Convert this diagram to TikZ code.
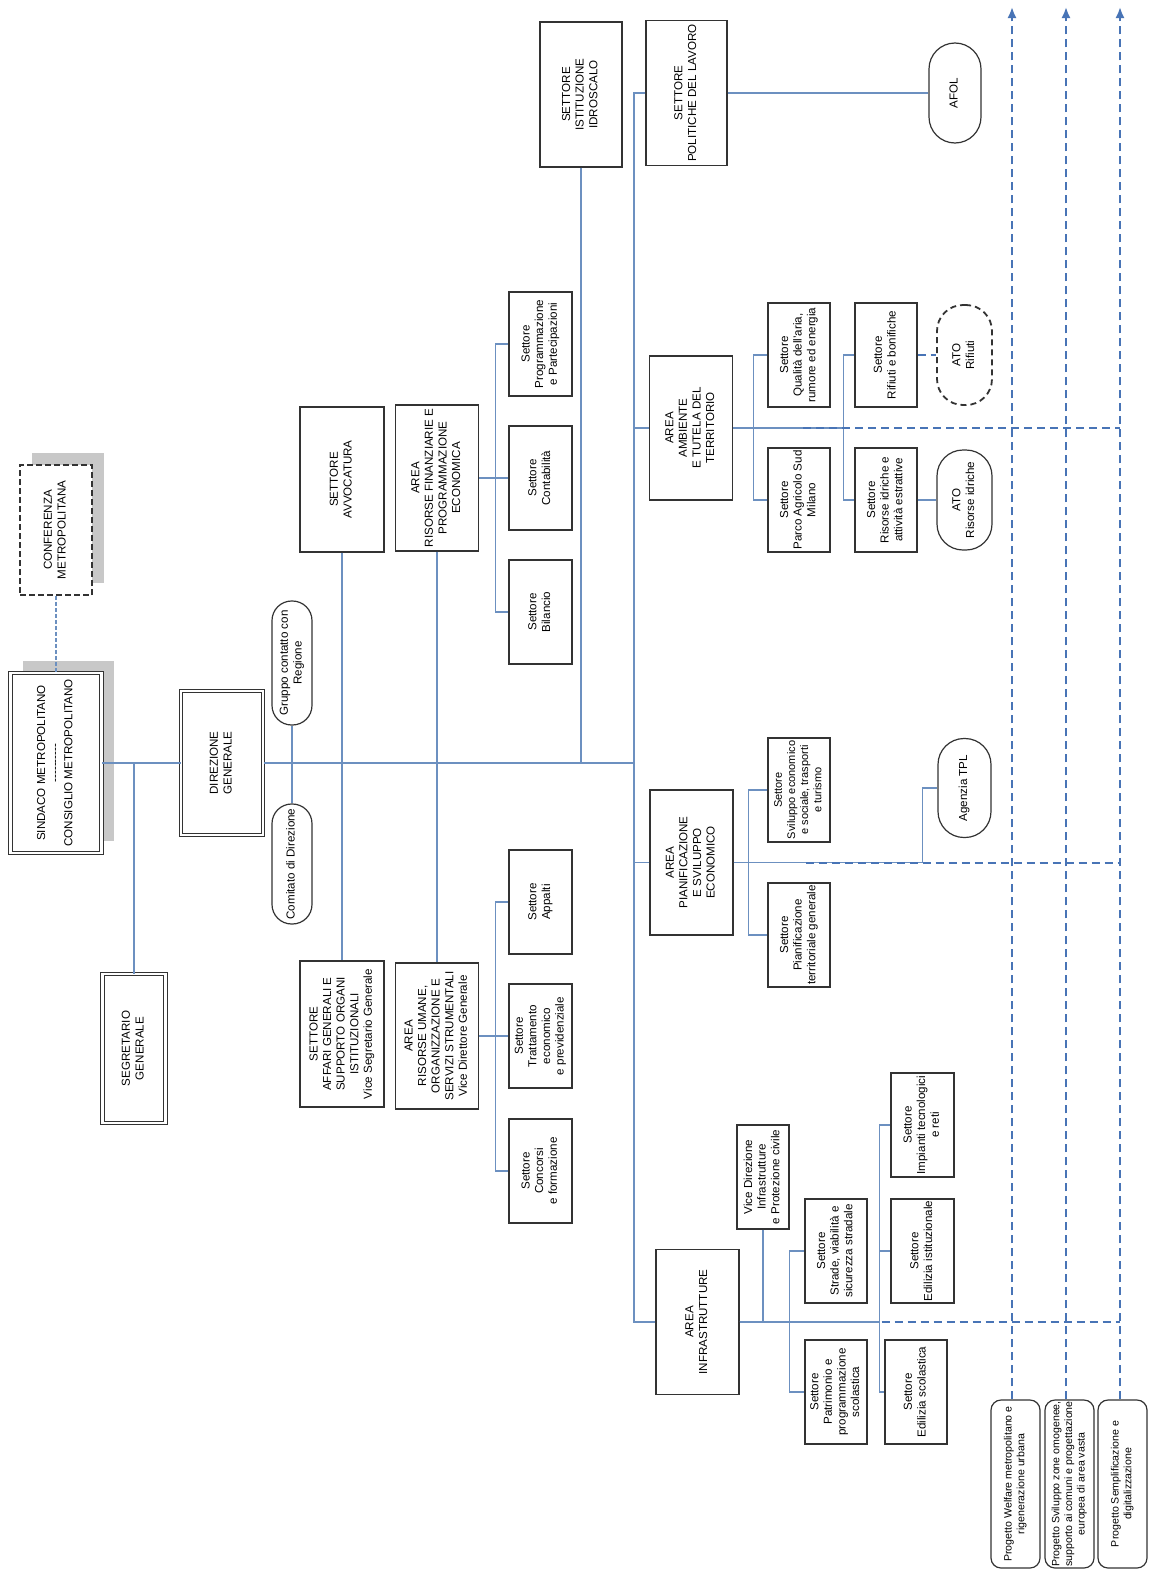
\documentclass[tikz,border=0pt]{standalone}
\usepackage{fontspec}
\setmainfont{Liberation Sans}
\usepackage{graphicx}
\usepackage{tikz}
\usetikzlibrary{arrows.meta,shadows}

\definecolor{linkblue}{RGB}{108,144,192}
\definecolor{projblue}{RGB}{72,116,182}
\definecolor{shadowgray}{RGB}{200,200,200}
\newcommand{\vlab}[1]{\rotatebox{90}{\begin{tabular}{@{}c@{}}#1\end{tabular}}}

\begin{document}
\begin{tikzpicture}[x=0.5pt,y=-0.5pt,
  font=\fontsize{5.8}{6.8}\selectfont,
  cellbox/.style={draw=black!80,line width=0.6pt,fill=white,inner sep=0pt},
  settbox/.style={cellbox,minimum width=31.5pt,minimum height=52pt},
  areabox/.style={cellbox,minimum width=41.5pt,minimum height=72.5pt},
  headbox/.style={cellbox,double=white,double distance=1.2pt,line width=0.5pt},
  confbox/.style={cellbox,line width=0.8pt,dash pattern=on 3pt off 1.5pt},
  grayshadow/.style={drop shadow={shadow xshift=6pt,shadow yshift=6pt,fill=shadowgray,opacity=1}},
  ovalbox/.style={cellbox,minimum width=26.5pt,minimum height=50pt,rounded corners=13pt},
  projbox/.style={cellbox,rounded corners=5pt,minimum width=24.5pt,minimum height=84pt,font=\fontsize{5.3}{6.3}\selectfont},
  conn/.style={draw=linkblue,line width=0.6pt},
  projline/.style={draw=projblue,line width=1pt,dash pattern=on 4pt off 2.5pt}]

  \fill[white] (0,0) rectangle (1152,1574);
  \useasboundingbox (0,0) rectangle (1152,1574);

  % Vertici
  \node[confbox,grayshadow,minimum width=36pt,minimum height=65pt] (conf) at (56,530) {\vlab{CONFERENZA\\METROPOLITANA}};
  \node[headbox,grayshadow,minimum width=45.5pt,minimum height=90pt] (sindaco) at (56,763) {\vlab{SINDACO METROPOLITANO\\-{}-{}-{}-{}-{}-{}-{}-{}-{}-\\CONSIGLIO METROPOLITANO}};
  \node[headbox,minimum width=31.5pt,minimum height=74.5pt] (segr) at (134,1048.5) {\vlab{SEGRETARIO\\GENERALE}};
  \node[headbox,minimum width=41pt,minimum height=72pt] (dirgen) at (222,763) {\vlab{DIREZIONE\\GENERALE}};
  \node[cellbox,rounded corners=9.8pt,minimum width=20pt,minimum height=62pt] (gruppo) at (292,663) {\vlab{Gruppo contatto con\\Regione}};
  \node[cellbox,rounded corners=9.8pt,minimum width=20pt,minimum height=60pt] (comitato) at (292,864) {\vlab{Comitato di Direzione}};

  % Settori di staff e aree di supporto
  \node[areabox,minimum width=42pt] (avv) at (342,479.5) {\vlab{SETTORE\\AVVOCATURA}};
  \node[areabox,minimum width=42pt,minimum height=73pt] (affari) at (342,1034) {\vlab{SETTORE\\AFFARI GENERALI E\\SUPPORTO ORGANI\\ISTITUZIONALI\\Vice Segretario Generale}};
  \node[areabox,minimum height=73pt] (areafin) at (437,478) {\vlab{AREA\\RISORSE FINANZIARIE E\\PROGRAMMAZIONE\\ECONOMICA}};
  \node[areabox,minimum height=73pt] (areaum) at (437,1036) {\vlab{AREA\\RISORSE UMANE,\\ORGANIZZAZIONE E\\SERVIZI STRUMENTALI\\Vice Direttore Generale}};
  \node[settbox] (progr) at (540.5,344) {\vlab{Settore\\Programmazione\\e Partecipazioni}};
  \node[settbox] (contab) at (540.5,478) {\vlab{Settore\\Contabilità}};
  \node[settbox] (bilancio) at (540.5,612) {\vlab{Settore\\Bilancio}};
  \node[settbox] (appalti) at (540.5,902) {\vlab{Settore\\Appalti}};
  \node[settbox] (tratt) at (540.5,1036) {\vlab{Settore\\Trattamento\\economico\\e previdenziale}};
  \node[settbox] (concorsi) at (540.5,1171) {\vlab{Settore\\Concorsi\\e formazione}};

  % Aree di linea
  \node[areabox,minimum width=41pt] (idroscalo) at (581,94.5) {\vlab{SETTORE\\ISTITUZIONE\\IDROSCALO}};
  \node[areabox,minimum width=40.5pt] (politiche) at (686.5,93) {\vlab{SETTORE\\POLITICHE DEL LAVORO}};
  \node[ovalbox,minimum width=26pt] (afol) at (955,93) {\vlab{AFOL}};
  \node[areabox,minimum height=72pt] (ambiente) at (691,428) {\vlab{AREA\\AMBIENTE\\E TUTELA DEL\\TERRITORIO}};
  \node[settbox,minimum width=31pt] (qualita) at (799,355) {\vlab{Settore\\Qualità dell'aria,\\rumore ed energia}};
  \node[settbox,minimum width=31pt] (parco) at (799,500) {\vlab{Settore\\Parco Agricolo Sud\\Milano}};
  \node[settbox,minimum width=31pt] (rifiuti) at (886,355) {\vlab{Settore\\Rifiuti e bonifiche}};
  \node[settbox,minimum width=31pt] (risidr) at (886,500) {\vlab{Settore\\Risorse idriche e\\attività estrattive}};
  \node[ovalbox,minimum width=27.5pt,line width=0.9pt,dash pattern=on 3pt off 2pt] (atorif) at (964.5,355) {\vlab{ATO\\Rifiuti}};
  \node[ovalbox,minimum width=27.5pt] (atoidr) at (964.5,500) {\vlab{ATO\\Risorse idriche}};
  \node[areabox] (pianif) at (691.5,862.5) {\vlab{AREA\\PIANIFICAZIONE\\E SVILUPPO\\ECONOMICO}};
  \node[settbox,minimum width=31pt,font=\fontsize{5.5}{6.6}\selectfont] (svileco) at (799,790) {\vlab{Settore\\Sviluppo economico\\e sociale, trasporti\\e turismo}};
  \node[settbox,minimum width=31pt] (pianter) at (799,935) {\vlab{Settore\\Pianificazione\\territoriale generale}};
  \node[ovalbox,minimum height=49.5pt] (tpl) at (964.5,788) {\vlab{Agenzia TPL}};
  \node[areabox] (infra) at (697.5,1322) {\vlab{AREA\\INFRASTRUTTURE}};
  \node[settbox,minimum width=26pt] (vicedir) at (763,1177) {\vlab{Vice Direzione\\Infrastrutture\\e Protezione civile}};
  \node[settbox,minimum width=31pt] (strade) at (836,1251) {\vlab{Settore\\Strade, viabilità e\\sicurezza stradale}};
  \node[settbox,minimum width=31pt] (patrim) at (836,1392) {\vlab{Settore\\Patrimonio e\\programmazione\\scolastica}};
  \node[settbox] (impianti) at (922.5,1125) {\vlab{Settore\\Impianti tecnologici\\e reti}};
  \node[settbox] (edist) at (922.5,1251) {\vlab{Settore\\Edilizia istituzionale}};
  \node[settbox,minimum width=31pt] (edscol) at (916,1392) {\vlab{Settore\\Edilizia scolastica}};

  % Progetti
  \node[projbox] (proj1) at (1015.5,1484) {\vlab{Progetto Welfare metropolitano e\\rigenerazione urbana}};
  \node[projbox] (proj2) at (1069.5,1484) {\vlab{Progetto Sviluppo zone omogenee,\\supporto ai comuni e progettazione\\europea di area vasta}};
  \node[projbox] (proj3) at (1122.5,1484) {\vlab{Progetto Semplificazione e\\digitalizzazione}};
  \coordinate (top1) at (1012,7);
  \coordinate (top2) at (1066,7);
  \coordinate (top3) at (1120,7);
  \coordinate (trunk) at (634,763);

  % Collegamenti
  \draw[conn,dash pattern=on 2pt off 1pt] (conf.south) -- (sindaco.north);
  \draw[conn] (sindaco.east) -- (dirgen.west);
  \draw[conn] (segr.north) -- (segr.north |- sindaco.east);
  \draw[conn] (dirgen.east) -- (trunk);
  \draw[conn] (gruppo.south) -- (comitato.north);
  \draw[conn] (avv.south) -- (affari.north);
  \draw[conn] (areafin.south) -- (areaum.north);
  \draw[conn] (idroscalo.south) -- (idroscalo.south |- trunk);
  \draw[conn] (politiche.west) -| (trunk);
  \draw[conn] (ambiente.west) -| (trunk);
  \draw[conn] (pianif.west) -| (trunk);
  \draw[conn] (infra.west) -| (trunk);
  \draw[conn] (politiche.east) -- (afol.west);

  % Area finanziaria e area risorse umane
  \draw[conn] (areafin.east) -- (contab.west);
  \draw[conn] (areafin.east) -- ++(16,0) |- (progr.west);
  \draw[conn] (areafin.east) -- ++(16,0) |- (bilancio.west);
  \draw[conn] (areaum.east) -- (tratt.west);
  \draw[conn] (areaum.east) -- ++(16,0) |- (appalti.west);
  \draw[conn] (areaum.east) -- ++(16,0) |- (concorsi.west);

  % Area ambiente
  \draw[conn] (ambiente.east) -- ++(110,0);
  \draw[conn] (ambiente.east) -- ++(20,0) |- (qualita.west);
  \draw[conn] (ambiente.east) -- ++(20,0) |- (parco.west);
  \draw[conn] (ambiente.east) -- ++(110,0) |- (rifiuti.west);
  \draw[conn] (ambiente.east) -- ++(110,0) |- (risidr.west);
  \draw[projline,line width=0.9pt] (rifiuti.east) -- (atorif.west);
  \draw[conn] (risidr.east) -- (atoidr.west);

  % Area pianificazione
  \draw[conn] (pianif.east) -- ++(15,0) |- (svileco.west);
  \draw[conn] (pianif.east) -- ++(15,0) |- (pianter.west);
  \draw[conn] (pianif.east) -- ++(189,0) |- (tpl.west);

  % Area infrastrutture
  \draw[conn] (infra.east) -- ++(140,0);
  \draw[conn] (vicedir.south) -- (vicedir.south |- infra.east);
  \draw[conn] (infra.east) -- ++(50,0) |- (strade.west);
  \draw[conn] (infra.east) -- ++(50,0) |- (patrim.west);
  \draw[conn] (infra.east) -- ++(140,0) |- (impianti.west);
  \draw[conn] (infra.east) -- ++(140,0) |- (edist.west);
  \draw[conn] (infra.east) -- ++(140,0) |- (edscol.west);

  % Progetti trasversali
  \draw[projline] ([xshift=35pt]ambiente.east) -- (ambiente.east -| top3);
  \draw[projline] ([xshift=36pt]pianif.east) -- (pianif.east -| top3);
  \draw[projline] ([xshift=71pt]infra.east) -- (infra.east -| top3);
  \draw[projline,-{Latex[length=5.5pt,width=4.5pt]}] (proj1.north -| top1) -- (top1);
  \draw[projline,-{Latex[length=5.5pt,width=4.5pt]}] (proj2.north -| top2) -- (top2);
  \draw[projline,-{Latex[length=5.5pt,width=4.5pt]}] (proj3.north -| top3) -- (top3);
\end{tikzpicture}
\end{document}
